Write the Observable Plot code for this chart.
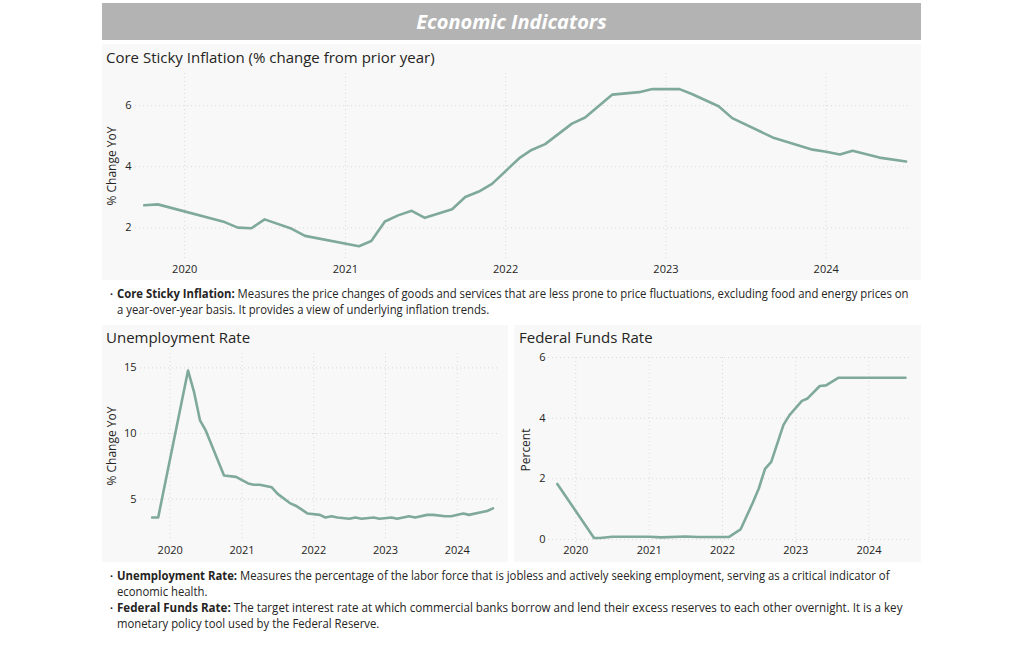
<!DOCTYPE html>
<html>
<head>
<meta charset="utf-8">
<script src="https://cdn.jsdelivr.net/npm/d3@7"></script>
<script src="https://cdn.jsdelivr.net/npm/@observablehq/plot@0.6"></script>
<style>
  body { margin:0; width:1024px; height:646px; position:relative; background:#fff; font-family:"Open Sans", sans-serif; color:#252423; overflow:hidden; }
  .abs { position:absolute; }
  .panel { position:absolute; background:#f8f8f8; }
  .ptitle { position:absolute; font-size:15px; line-height:20px; color:#252423; white-space:nowrap; }
  .desc { position:absolute; font-size:12px; line-height:16px; white-space:nowrap; transform-origin:left top; transform:scaleX(0.943); color:#252423; }
  .desc b { font-weight:700; }
  .bul { position:absolute; font-size:8px; line-height:16px; color:#252423; }
</style>
</head>
<body>
<div class="abs" style="left:102px;top:3px;width:819px;height:37px;background:#b3b3b3;display:flex;align-items:center;justify-content:center;color:#fff;font-weight:700;font-style:italic;font-size:20px;">Economic Indicators</div>

<div class="panel" style="left:102px;top:44px;width:819px;height:236px;"></div>
<div class="ptitle" style="left:106px;top:47px;">Core Sticky Inflation (% change from prior year)</div>
<div id="c1" class="abs" style="left:102px;top:62px;"></div>

<div class="bul" style="left:110px;top:286px;">•</div>
<div class="desc" style="left:117px;top:286px;"><b>Core Sticky Inflation:</b> Measures the price changes of goods and services that are less prone to price fluctuations, excluding food and energy prices on</div>
<div class="desc" style="left:117px;top:302px;">a year-over-year basis. It provides a view of underlying inflation trends.</div>

<div class="panel" style="left:102px;top:325px;width:406px;height:237px;"></div>
<div class="ptitle" style="left:106px;top:327px;">Unemployment Rate</div>
<div id="c2" class="abs" style="left:102px;top:345px;"></div>

<div class="panel" style="left:514px;top:325px;width:407px;height:237px;"></div>
<div class="ptitle" style="left:519px;top:327px;">Federal Funds Rate</div>
<div id="c3" class="abs" style="left:514px;top:345px;"></div>

<div class="bul" style="left:110px;top:568px;">•</div>
<div class="desc" style="left:117px;top:568px;"><b>Unemployment Rate:</b> Measures the percentage of the labor force that is jobless and actively seeking employment, serving as a critical indicator of</div>
<div class="desc" style="left:117px;top:584px;">economic health.</div>
<div class="bul" style="left:110px;top:600px;">•</div>
<div class="desc" style="left:117px;top:600px;transform:scaleX(0.966);"><b>Federal Funds Rate:</b> The target interest rate at which commercial banks borrow and lend their excess reserves to each other overnight. It is a key</div>
<div class="desc" style="left:117px;top:616px;">monetary policy tool used by the Federal Reserve.</div>

<script>
// ---- data ----
const inflationMonths = ["2019-10","2019-11","2020-04","2020-05","2020-06","2020-07","2020-09","2020-10","2021-02","2021-03","2021-04","2021-05","2021-06","2021-07","2021-09","2021-10","2021-11","2021-12","2022-02","2022-03","2022-04","2022-06","2022-07","2022-09","2022-11","2022-12","2023-02","2023-03","2023-05","2023-06","2023-09","2023-12","2024-01","2024-02","2024-03","2024-05","2024-07"];
const inflationValues = [2.74,2.77,2.19,2.01,1.99,2.28,1.97,1.74,1.40,1.57,2.21,2.41,2.56,2.33,2.61,3.01,3.19,3.44,4.28,4.55,4.74,5.41,5.61,6.36,6.44,6.54,6.54,6.38,5.98,5.59,4.96,4.56,4.49,4.40,4.52,4.30,4.17];

const unemploymentMonths = ["2019-10","2019-11","2020-04","2020-05","2020-06","2020-07","2020-10","2020-12","2021-02","2021-03","2021-04","2021-06","2021-07","2021-09","2021-10","2021-11","2021-12","2022-02","2022-03","2022-04","2022-05","2022-07","2022-08","2022-09","2022-11","2022-12","2023-02","2023-03","2023-05","2023-06","2023-08","2023-09","2023-11","2023-12","2024-02","2024-03","2024-05","2024-06","2024-07"];
const unemploymentValues = [3.6,3.6,14.8,13.2,11.0,10.2,6.8,6.7,6.2,6.1,6.1,5.9,5.4,4.7,4.5,4.2,3.9,3.8,3.6,3.7,3.6,3.5,3.6,3.5,3.6,3.5,3.6,3.5,3.7,3.6,3.8,3.8,3.7,3.7,3.9,3.8,4.0,4.1,4.3];

const fedFundsMonths = ["2019-10","2020-04","2020-05","2020-07","2021-01","2021-03","2021-07","2021-09","2022-02","2022-04","2022-06","2022-07","2022-08","2022-09","2022-11","2022-12","2023-02","2023-03","2023-05","2023-06","2023-08","2024-07"];
const fedFundsValues = [1.83,0.05,0.05,0.09,0.09,0.07,0.10,0.08,0.08,0.33,1.21,1.68,2.33,2.56,3.78,4.10,4.57,4.65,5.06,5.08,5.33,5.33];

const yearTicks = ["2020","2021","2022","2023","2024"];
const inflationYTicks = [2,4,6];
const unemploymentYTicks = [5,10,15];
const fedFundsYTicks = [0,2,4,6];

const lineColor = "#7fa99b";
const parse = d3.utcParse("%Y-%m");
const rows = (months, values) => months.map((m, i) => ({date: parse(m), value: values[i]}));
const xTicks = yearTicks.map(y => d3.utcParse("%Y")(y));

function chart({data, width, height, margins, xDomain, yDomain, yTicks, yLabel, xPad, yPad, labelOffset}) {
  return Plot.plot({
    width, height,
    marginLeft: margins[0], marginRight: margins[1], marginTop: margins[2], marginBottom: margins[3],
    style: {background: "transparent", fontFamily: "Open Sans, sans-serif", fontSize: "11px", color: "#252423", overflow: "visible"},
    x: {type: "utc", domain: xDomain.map(d => new Date(d))},
    y: {domain: yDomain},
    marks: [
      Plot.gridX(xTicks, {stroke: "#d9d9d9", strokeOpacity: 1, strokeDasharray: "1,3"}),
      Plot.gridY(yTicks, {stroke: "#d9d9d9", strokeOpacity: 1, strokeDasharray: "1,3"}),
      Plot.axisX(xTicks, {tickSize: 0, tickPadding: xPad, tickFormat: d3.utcFormat("%Y"), label: null}),
      Plot.axisY(yTicks, {tickSize: 0, tickPadding: yPad, label: null}),
      Plot.axisY({ticks: [], label: yLabel, labelAnchor: "center", labelArrow: "none", labelOffset, fontSize: 12}),
      Plot.lineY(data, {x: "date", y: "value", stroke: lineColor, strokeWidth: 2.6, strokeLinejoin: "round"})
    ]
  });
}

document.getElementById("c1").append(chart({
  data: rows(inflationMonths, inflationValues),
  width: 819, height: 220, margins: [33, 11, 11, 24],
  xDomain: ["2019-09-11", "2024-07-11"], yDomain: [1.0, 7.05],
  yTicks: inflationYTicks, yLabel: "% Change YoY", xPad: 7, yPad: 4, labelOffset: 28
}));

document.getElementById("c2").append(chart({
  data: rows(unemploymentMonths, unemploymentValues),
  width: 406, height: 216, margins: [38, 10, 8, 23],
  xDomain: ["2019-08-03", "2024-07-29"], yDomain: [2.0, 16.1],
  yTicks: unemploymentYTicks, yLabel: "% Change YoY", xPad: 8, yPad: 4, labelOffset: 33
}));

document.getElementById("c3").append(chart({
  data: rows(fedFundsMonths, fedFundsValues),
  width: 407, height: 216, margins: [34, 11, 12, 19],
  xDomain: ["2019-08-18", "2024-07-26"], yDomain: [-0.1, 6.0],
  yTicks: fedFundsYTicks, yLabel: "Percent", xPad: 4, yPad: 3, labelOffset: 27
}));
</script>
</body>
</html>
